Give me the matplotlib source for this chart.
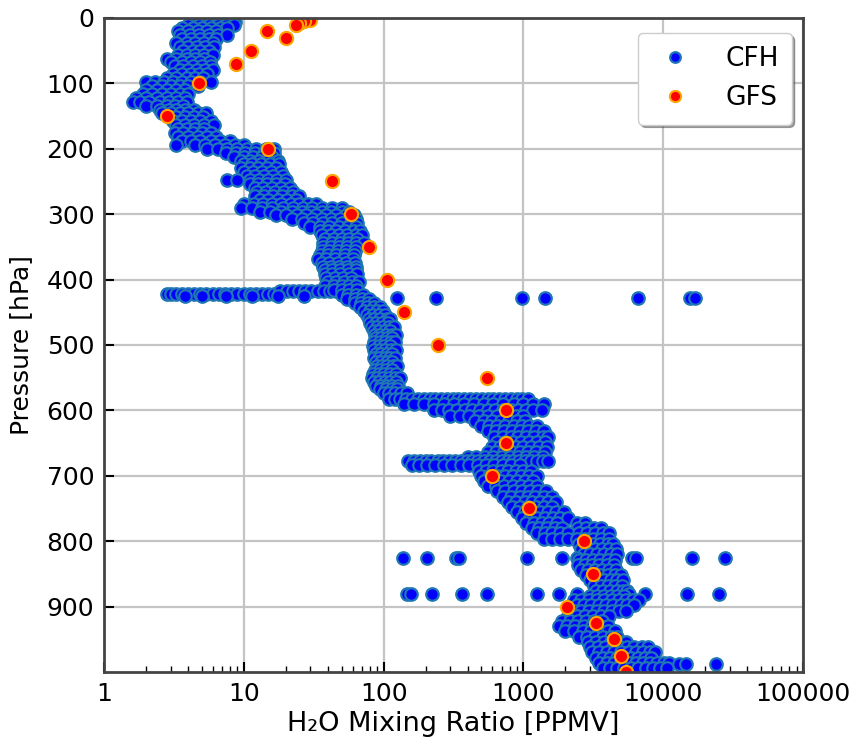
import numpy as np
import matplotlib.pyplot as plt

# CFH sonde profile: pressure levels (hPa) and the mixing ratios (ppmv) read at each
cfh_levels = [
    2, 6, 10, 15, 20, 26, 32, 38, 44, 50, 56, 62, 68, 74, 80, 86, 92, 98,
    104, 110, 116, 122, 128, 134, 140, 146, 152, 158, 164, 170, 176, 182, 188, 194,
    200, 206, 212, 218, 224, 230, 236, 242, 248, 254, 260, 266, 272, 278, 284,
    290, 296, 302, 308, 314, 320, 326, 332, 338, 344, 350, 356, 362, 368, 374,
    380, 386, 392, 398, 404, 410, 422, 418, 425, 416, 424, 428, 430, 436, 442,
    448, 454, 460, 466, 472, 478, 484, 490, 496, 502, 508, 514, 520, 526, 532,
    538, 544, 550, 556, 562, 568, 574, 582, 590, 600, 608, 616, 624, 632, 640,
    648, 656, 664, 672, 678, 684, 692, 700, 708, 716, 724, 732, 740, 748, 756,
    764, 772, 780, 788, 796, 804, 812, 820, 825, 828, 836, 844, 852, 860, 868,
    876, 880, 884, 890, 898, 906, 914, 922, 930, 938, 946, 954, 962, 970, 978,
    986, 988, 994,
]
cfh_values = [
    [4.5, 5.2, 6.0, 7.0, 8.0],
    [4.2, 5.0, 5.8, 6.8, 7.8, 8.6],
    [4.0, 4.8, 5.6, 6.5, 7.5, 8.5],
    [3.6, 4.3, 5.0, 5.8, 6.8, 7.6],
    [3.4, 4.0, 4.7, 5.5, 6.3],
    [3.5, 4.1, 4.8, 5.6, 6.5, 7.6],
    [3.6, 4.2, 4.9, 5.6, 6.3],
    [3.3, 3.9, 4.5, 5.2, 6.0],
    [3.5, 4.0, 4.6, 5.3, 6.1],
    [3.7, 4.3, 4.9, 5.6],
    [3.4, 3.9, 4.5, 5.2, 6.0],
    [2.8, 3.3, 3.9, 4.5, 5.2],
    [3.0, 3.6, 4.2, 4.9, 5.7],
    [3.2, 3.7, 4.3, 5.0, 5.8],
    [3.5, 4.0, 4.6, 5.3, 6.0],
    [3.1, 3.6, 4.2, 4.8, 5.5],
    [2.8, 3.3, 3.9, 4.5, 5.1],
    [2.0, 2.3, 2.7, 3.1, 3.6, 4.2, 4.9, 5.8],
    [2.2, 2.6, 3.0, 3.5, 4.0, 4.7],
    [2.0, 2.4, 2.8, 3.3, 3.8],
    [1.9, 2.2, 2.6, 3.0, 3.5, 4.0],
    [1.7, 2.0, 2.4, 2.8, 3.3, 3.8],
    [1.6, 1.8, 2.1, 2.5, 2.9, 3.4, 3.9],
    [2.0, 2.4, 2.8, 3.2, 3.7],
    [2.5, 2.9, 3.3, 3.8, 4.4],
    [2.6, 3.0, 3.5, 4.0, 4.7, 5.4],
    [2.9, 3.3, 3.8, 4.4, 5.1],
    [3.1, 3.6, 4.2, 4.9, 5.8],
    [3.3, 3.8, 4.4, 5.2, 6.1],
    [3.4, 3.9, 4.5, 5.2],
    [3.2, 3.7, 4.3, 5.0, 5.8],
    [3.4, 4.0, 4.7, 5.5, 6.3],
    [3.6, 4.2, 4.9, 5.8, 6.8, 8.0],
    [3.3, 4.5, 5.3, 6.2, 7.3, 8.6, 10],
    [5.5, 6.5, 7.6, 8.9, 10.5, 12.3, 14.5, 16.5],
    [7.5, 8.8, 10.2, 12.0, 14.0, 16.5],
    [8.5, 10, 11.6, 13.5, 15.8],
    [9.5, 11, 12.8, 14.8, 17.5],
    [10, 11.5, 13.3, 15.5, 18],
    [9.5, 11, 12.7, 14.7, 17],
    [10, 11.6, 13.5, 15.6, 18.5],
    [10.5, 12, 14, 16.3, 19],
    [7.6, 9, 11, 12.8, 14.8, 17.2, 20],
    [11, 12.7, 14.7, 17, 19.8],
    [12, 13.8, 16, 18.5, 21.5],
    [12.5, 14.5, 16.8, 19.5, 22.5],
    [12, 14, 16.2, 18.8, 22, 25],
    [13, 15, 17.5, 20.3, 23.5],
    [10, 11.8, 13.8, 16, 18.6, 21.6, 25, 29, 33],
    [9.5, 11.5, 13.5, 16, 19, 22.5, 26.5, 31, 36.5, 43, 50],
    [13, 15.5, 18.5, 22, 26, 30.5, 36, 42, 50, 57],
    [17, 20, 24, 28, 33, 39, 46, 54, 61],
    [22, 26, 31, 36, 42, 49, 57, 63],
    [27, 31.5, 37, 43, 50, 58, 65],
    [30, 35, 41, 48, 56, 64],
    [35, 40, 46, 53, 61, 68],
    [36, 42, 48, 55, 63, 70],
    [38, 44, 50, 57, 65],
    [37, 43, 49, 56, 64, 72],
    [37, 42, 48, 55, 63],
    [36, 41, 47, 54, 62],
    [35, 40, 46, 53, 61],
    [34, 39, 45, 52, 60],
    [36, 41, 47, 54, 62],
    [37, 42, 48, 55, 63],
    [38, 43, 49, 56, 64],
    [38, 43, 49, 57, 65],
    [39, 45, 51, 58],
    [40, 46, 52, 59, 67],
    [38, 44, 50, 57, 64],
    [2.8, 3.0, 3.3, 3.6, 4.0, 4.4, 4.9, 5.4, 6.0, 6.6, 7.3, 8.1, 9.0, 10, 11,
     12.2, 13.5, 15, 16.5],
    [18.3, 20.3, 22.5, 25, 27.5, 30.5, 34, 37.5, 41.5, 46],
    [3.8, 5.0, 7.5, 11.5, 17.5, 27],
    [44, 50, 57, 65],
    [50, 56, 63, 71],
    [124, 236, 980, 1430, 6600, 15500, 17000],
    [55, 62, 70, 79],
    [62, 69, 77, 86],
    [68, 76, 85, 95],
    [72, 80, 89, 99],
    [76, 84, 93, 103],
    [78, 86, 95, 105, 112],
    [80, 88, 97, 107],
    [82, 90, 99, 109, 118],
    [85, 93, 102, 112],
    [87, 95, 104, 114, 122],
    [88, 96, 105, 115],
    [86, 94, 103, 113, 121],
    [84, 92, 101, 111],
    [86, 94, 103, 113, 122],
    [88, 96, 105, 115],
    [85, 93, 102, 112, 121],
    [88, 96, 105, 115],
    [89, 97, 106, 116, 125],
    [87, 95, 104, 114],
    [84, 92, 101, 111, 122],
    [83, 90, 99, 109, 120, 132],
    [85, 93, 102, 112, 123],
    [88, 96, 105, 115, 126],
    [95, 104, 114, 125],
    [100, 110, 121, 133, 146],
    [110, 120, 132, 145, 160, 176, 194, 213, 235, 258, 284, 312, 343, 378, 416,
     458, 504, 554, 610, 671, 738, 812, 893, 982, 1080],
    [140, 165, 195, 230, 270, 320, 375, 440, 520, 610, 720, 850, 1000, 1180, 1400],
    [230, 260, 295, 335, 380, 430, 490, 555, 630, 715, 810, 920, 1040, 1180, 1350],
    [300, 350, 410, 480, 560, 650, 760, 880, 1000],
    [450, 520, 600, 690, 790, 900, 1030],
    [500, 570, 650, 740, 850, 970, 1100, 1250],
    [560, 640, 730, 830, 950, 1080, 1230, 1400],
    [620, 710, 810, 920, 1050, 1200, 1370, 1500],
    [650, 740, 840, 960, 1090, 1250, 1430],
    [600, 680, 770, 880, 1000, 1140, 1300, 1480],
    [560, 640, 730, 830, 950, 1080, 1230, 1420],
    [400, 460, 530, 610, 700, 800, 920, 1050, 1200, 1380],
    [150, 165, 182, 200, 220, 243, 267, 294, 324, 357, 393, 432, 476, 524, 577,
     635, 700, 770, 848, 933, 1030, 1130, 1250, 1380, 1500],
    [160, 180, 205, 235, 270, 310, 355, 410, 470, 540, 620, 710, 820, 940],
    [480, 540, 610, 690, 780, 880, 1000, 1130],
    [500, 570, 650, 740, 840, 960, 1100, 1250],
    [520, 600, 690, 790, 900, 1030, 1180],
    [560, 640, 730, 840, 960, 1100, 1250],
    [650, 740, 850, 970, 1110, 1270, 1450],
    [720, 820, 940, 1070, 1220, 1400, 1600],
    [780, 890, 1020, 1160, 1320, 1500, 1700],
    [830, 950, 1080, 1230, 1400, 1600],
    [900, 1020, 1160, 1320, 1500, 1700, 1950],
    [980, 1110, 1260, 1430, 1620, 1840, 2100],
    [1050, 1190, 1350, 1530, 1740, 2400, 2750],
    [1150, 1300, 1480, 1680, 1900, 2450, 2800, 3200, 3600],
    [1250, 1420, 1610, 1830, 2080, 2500, 2850, 3250, 3700, 4100],
    [1400, 1600, 1820, 2070, 2400, 2750, 3150, 3600, 4100],
    [2500, 2800, 3150, 3550, 4000, 4400],
    [2600, 2900, 3250, 3650, 4100, 4600],
    [2700, 3000, 3350, 3750, 4200, 4700],
    [137, 204, 330, 345, 1060, 1900, 2400, 6000, 6400, 16000, 27600],
    [2500, 2800, 3150, 3550, 4000, 4500],
    [2450, 2750, 3100, 3500, 3950, 4450],
    [2600, 2900, 3250, 3650, 4100, 4600],
    [2800, 3150, 3550, 4000, 4500, 5000],
    [3000, 3350, 3750, 4200, 4700, 5200],
    [3200, 3600, 4050, 4550, 5100],
    [3300, 3700, 4150, 4650, 5200, 5500],
    [147, 156, 221, 361, 546, 1250, 1800, 2400, 5700, 7400, 14800, 25000],
    [3000, 3350, 3750, 4200, 4700, 5250],
    [2300, 2600, 2950, 3350, 3800, 4300, 4850, 5450, 6100, 6700],
    [2400, 2700, 3050, 3450, 3900, 4400, 4950, 5550, 6200],
    [2300, 2600, 2950, 3350, 3800, 4300, 4850, 5400],
    [2100, 2400, 2750, 3150, 3600, 4100],
    [1900, 2150, 2450, 2800, 3200, 3650],
    [1800, 2050, 2350, 2700, 3100, 3550, 4000],
    [2000, 2300, 2650, 3050, 3500, 4000, 4500],
    [2500, 2850, 3250, 3700, 4200, 4700],
    [2900, 3300, 3750, 4250, 4800, 5400],
    [3000, 3400, 3850, 4350, 4900, 5500, 6200, 7000, 7800],
    [3100, 3500, 3950, 4450, 5000, 5650, 6350, 7150, 8000, 8800],
    [3300, 3700, 4150, 4650, 5200, 5850, 6550, 7350, 8200],
    [3500, 3950, 4450, 5000, 5650, 6350, 7150, 8050, 9050, 10200, 11000],
    [13000, 14500, 24000],
    [3700, 4150, 4650, 5250, 5900, 6650, 7500, 8450, 9500, 10700],
]

# GFS model levels and mixing ratio
gfs_p = [3, 5, 7, 10, 20, 30, 50, 70, 100, 150, 200, 250, 300, 350, 400, 450,
         500, 550, 600, 650, 700, 750, 800, 850, 900, 925, 950, 975, 1000]
gfs_x = [30, 27, 25, 23.5, 14.6, 20, 11.2, 8.8, 4.8, 2.8, 14.8, 42.5, 58, 78,
         105, 141, 247, 553, 750, 750, 600, 1100, 2700, 3150, 2050, 3300, 4450,
         4950, 5400]

xtick_vals = [1, 10, 100, 1000, 10000, 100000]
ytick_vals = [0, 100, 200, 300, 400, 500, 600, 700, 800, 900]

cfh_p = []
cfh_x = []
for lev, vals in zip(cfh_levels, cfh_values):
    cfh_p += [lev] * len(vals)
    cfh_x += vals

fig = plt.figure(figsize=(8.58, 7.40), dpi=100)
ax = fig.add_axes([0.1212, 0.0919, 0.8147, 0.8838])
ax.set_axisbelow(True)
ax.grid(True, color="#c4c4c4", linewidth=1.6)

ax.plot(cfh_x, cfh_p, "o", color="blue", markeredgecolor="#1f77b4",
        markersize=9, markeredgewidth=1.6, label="CFH")
ax.plot(gfs_x, gfs_p, "o", color="red", markeredgecolor="orange",
        markersize=9.5, markeredgewidth=1.5, label="GFS")

ax.set_xscale("log")
ax.set_xlim(1, 100000)
ax.set_ylim(1000, 0)
ax.set_xticks(xtick_vals)
ax.set_xticklabels([str(v) for v in xtick_vals])
ax.set_yticks(ytick_vals)
ax.tick_params(which="major", direction="in", length=7, width=1.5,
               labelsize=18, pad=7)
ax.tick_params(which="minor", direction="in", length=4, width=1)
for s in ax.spines.values():
    s.set_color("#444444")
    s.set_linewidth(2)

ax.set_xlabel("H\u2082O Mixing Ratio [PPMV]", fontsize=19.5, labelpad=4)
ax.set_ylabel("Pressure [hPa]", fontsize=18, labelpad=10)

leg = ax.legend(loc="upper right", fontsize=19, shadow=True, markerscale=0.85,
                borderpad=0.5, handletextpad=1.0, labelspacing=0.5,
                handlelength=1.8, borderaxespad=0,
                bbox_to_anchor=(0.984, 0.977))
leg.get_frame().set_edgecolor("#cccccc")

fig.savefig("out.png", dpi=100)
